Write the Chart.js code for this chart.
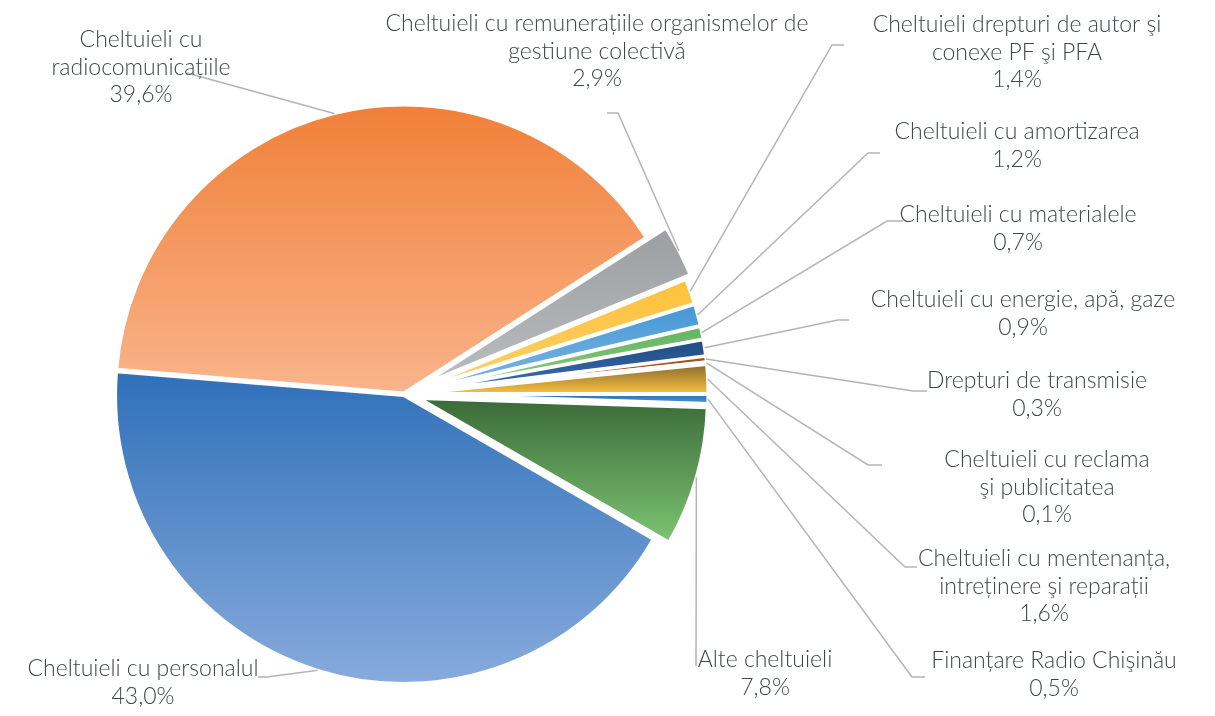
<!DOCTYPE html>
<html>
<head>
<meta charset="utf-8">
<script src="https://cdn.jsdelivr.net/npm/chart.js@4.4.1/dist/chart.umd.min.js"></script>
<style>
    html, body { margin: 0; padding: 0; background: #fff; }
</style>
</head>
<body>
<canvas id="pieChart" width="1215" height="716"></canvas>
<script>
// data, clockwise from the grey slice
const categories = [
    ['Cheltuieli cu remunerațiile organismelor de', 'gestiune colectivă'],
    ['Cheltuieli drepturi de autor şi', 'conexe PF şi PFA'],
    ['Cheltuieli cu amortizarea'],
    ['Cheltuieli cu materialele'],
    ['Cheltuieli cu energie, apă, gaze'],
    ['Drepturi de transmisie'],
    ['Cheltuieli cu reclama', 'şi publicitatea'],
    ['Cheltuieli cu mentenanța,', 'intreținere şi reparații'],
    ['Finanțare Radio Chişinău'],
    ['Alte cheltuieli'],
    ['Cheltuieli cu personalul'],
    ['Cheltuieli cu', 'radiocomunicațiile']
]
const shares = [2.9, 1.4, 1.2, 0.7, 0.9, 0.3, 0.1, 1.6, 0.5, 7.8, 43.0, 39.6]

// styles
const fillTop = ['#9b9fa1', '#fdc13a', '#4299d5', '#63b45f', '#1d4a80', '#a34e22', '#7f6000', '#8a6b2e', '#2a6fae', '#3b6a39', '#2f70b9', '#f08038']
const fillBottom = ['#babdbf', '#fdd06a', '#82b6e2', '#8fcb86', '#3d72b8', '#c0622f', '#bf9000', '#fdc442', '#5b9bd5', '#7dc572', '#88abdc', '#f9b48c']
const explode = [22, 16, 16, 16, 16, 16, 16, 16, 16, 16, 1.5, 1]

// label layout: centre x / first baseline, and leader bends
const labelAnchors = [[597, 31], [1017, 32], [1017, 139], [1018, 222], [1023, 307], [1037, 388],
    [1047, 467], [1044, 566], [1054, 668], [765, 667], [143, 676], [141, 47]]
const leaderBends = [
    [[618, 113], [607, 113]],
    [[832, 45], [844, 45]],
    [[868, 153], [880, 153]],
    [[887, 221], [903, 221]],
    [[838, 320], [849, 320]],
    [[913, 391], [927, 391]],
    [[868, 465], [882, 465]],
    [[905, 567], [917, 567]],
    [[912, 677], [925, 677]],
    [[696, 666]],
    [[267, 677], [258, 677]],
    [[187, 73]]
]

function sliceFill(c) {
    const i = c.dataIndex
    const arc = c.element
    if (!arc || !arc.outerRadius) return fillTop[i]
    const r = arc.outerRadius
    const ys = [arc.y, arc.y + Math.sin(arc.startAngle) * r, arc.y + Math.sin(arc.endAngle) * r]
    ;[-Math.PI / 2, Math.PI / 2, 3 * Math.PI / 2].forEach(a => {
        if (a > arc.startAngle && a < arc.endAngle) ys.push(arc.y + Math.sin(a) * r)
    })
    const top = Math.min(...ys), bottom = Math.max(...ys)
    const g = c.chart.ctx.createLinearGradient(0, top, 0, bottom + 1)
    g.addColorStop(0, fillTop[i])
    g.addColorStop(1, fillBottom[i])
    return g
}

const pieLabels = {
    id: 'pieLabels',
    afterDatasetUpdate(chart) {
        // pull slices out from the centre
        chart.getDatasetMeta(0).data.forEach((arc, i) => {
            const mid = (arc.startAngle + arc.endAngle) / 2
            arc.x += Math.cos(mid) * explode[i]
            arc.y += Math.sin(mid) * explode[i]
        })
    },
    afterDatasetsDraw(chart) {
        const ctx = chart.ctx
        const arcs = chart.getDatasetMeta(0).data
        ctx.save()
        ctx.strokeStyle = '#b4b4b4'
        ctx.lineWidth = 1.5
        arcs.forEach((arc, i) => {
            const mid = (arc.startAngle + arc.endAngle) / 2
            ctx.beginPath()
            ctx.moveTo(arc.x + Math.cos(mid) * arc.outerRadius, arc.y + Math.sin(mid) * arc.outerRadius)
            leaderBends[i].forEach(p => ctx.lineTo(p[0], p[1]))
            ctx.stroke()
        })
        ctx.fillStyle = '#40464a'
        ctx.font = '300 23px Lato'
        ctx.textAlign = 'center'
        ctx.textBaseline = 'alphabetic'
        arcs.forEach((arc, i) => {
            const lines = categories[i].concat(shares[i].toFixed(1).replace('.', ',') + '%')
            const [x, y] = labelAnchors[i]
            lines.forEach((t, k) => ctx.fillText(t, x, y + k * 27.5))
        })
        ctx.restore()
    }
}

function drawChart() {
    const chart = new Chart(document.getElementById('pieChart'), {
        type: 'pie',
        data: {
            labels: categories,
            datasets: [{
                data: shares,
                backgroundColor: sliceFill,
                borderColor: '#ffffff',
                borderWidth: 3,
                radius: 288
            }]
        },
        options: {
            responsive: false,
            animation: false,
            rotation: 57.3,
            layout: { padding: { left: 0, right: 407, top: 72, bottom: 0 } },
            plugins: {
                legend: { display: false },
                tooltip: { enabled: false }
            }
        },
        plugins: [pieLabels]
    })
    chart.update('none') // second pass so gradients know the slice bounds
}

document.fonts.load('300 23px Lato').then(drawChart, drawChart)
</script>
</body>
</html>
